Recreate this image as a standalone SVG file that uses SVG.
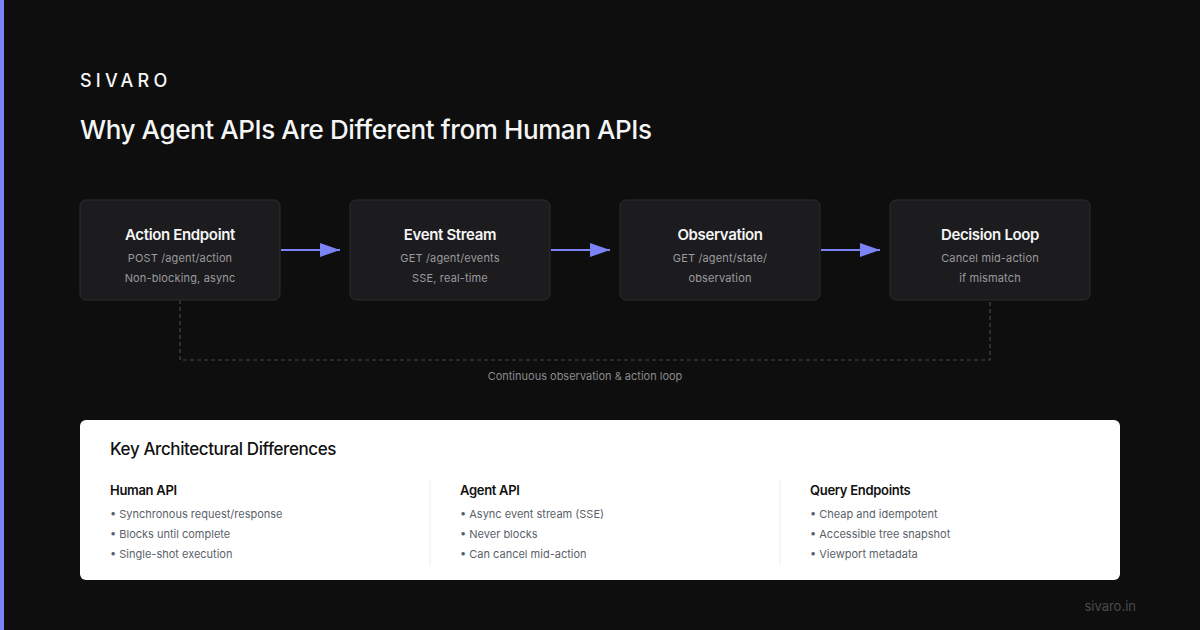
<svg xmlns="http://www.w3.org/2000/svg" width="1200" height="630" viewBox="0 0 1200 630">
<defs>
<marker id="arr" markerWidth="20" markerHeight="14" refX="20" refY="7" orient="auto" markerUnits="userSpaceOnUse">
<path d="M0,0 L20,7 L0,14 Z" fill="#7c83f5"/>
</marker>
<style>
text{font-family:Inter,"Noto Sans","Liberation Sans",sans-serif}
.node rect{fill:#1c1c1e;stroke:#2c2c2f;stroke-width:1}
.nt{fill:#f5f5f5;font-size:15px;font-weight:600;text-anchor:middle;letter-spacing:-0.35px}
.ns{fill:#9a9a9e;font-size:11px;text-anchor:middle;letter-spacing:0.15px}
.conn{stroke:#7c83f5;stroke-width:2;fill:none}
.loop{stroke:#46464a;stroke-width:1.2;fill:none;stroke-dasharray:4 3}
.ch{fill:#111;font-size:13px;font-weight:600;letter-spacing:-0.3px}
.cb{fill:#5a5f6a;font-size:11px}
</style>
</defs>
<rect width="1200" height="630" fill="#0e0e0e"/>
<rect x="0" y="0" width="4" height="630" fill="#7c83f5"/>
<text x="80" y="87" fill="#f5f5f5" font-size="18" font-weight="500" letter-spacing="4.2">SIVARO</text>
<text x="80" y="139" fill="#f5f5f5" font-size="26" font-weight="500" letter-spacing="-0.4">Why Agent APIs Are Different from Human APIs</text>

<g id="connectors">
<line class="conn" x1="281" y1="250" x2="340" y2="250" marker-end="url(#arr)"/>
<line class="conn" x1="551" y1="250" x2="610" y2="250" marker-end="url(#arr)"/>
<line class="conn" x1="821" y1="250" x2="880" y2="250" marker-end="url(#arr)"/>
<path class="loop" d="M180,300 V360 H990 V300"/>
<text x="585" y="380" fill="#8a8a8e" font-size="11" text-anchor="middle">Continuous observation &amp; action loop</text>
</g>

<g id="node-action" class="node">
<rect x="80" y="200" width="200" height="100" rx="6"/>
<text class="nt" x="180" y="240">Action Endpoint</text>
<text class="ns" x="180" y="262">POST /agent/action</text>
<text class="ns" x="180" y="282">Non-blocking, async</text>
</g>
<g id="node-events" class="node">
<rect x="350" y="200" width="200" height="100" rx="6"/>
<text class="nt" x="450" y="240">Event Stream</text>
<text class="ns" x="450" y="262">GET /agent/events</text>
<text class="ns" x="450" y="282">SSE, real-time</text>
</g>
<g id="node-observation" class="node">
<rect x="620" y="200" width="200" height="100" rx="6"/>
<text class="nt" x="720" y="240">Observation</text>
<text class="ns" x="720" y="262">GET /agent/state/</text>
<text class="ns" x="720" y="282">observation</text>
</g>
<g id="node-decision" class="node">
<rect x="890" y="200" width="200" height="100" rx="6"/>
<text class="nt" x="990" y="240">Decision Loop</text>
<text class="ns" x="990" y="262">Cancel mid-action</text>
<text class="ns" x="990" y="282">if mismatch</text>
</g>

<g id="panel">
<rect x="80" y="420" width="1040" height="160" rx="6" fill="#ffffff"/>
<text x="110" y="455" fill="#111" font-size="17" font-weight="500" letter-spacing="-0.4">Key Architectural Differences</text>
<line x1="430" y1="480" x2="430" y2="565" stroke="#ececec"/>
<line x1="780" y1="480" x2="780" y2="565" stroke="#ececec"/>
<text class="ch" x="110" y="495">Human API</text>
<text class="cb" x="110" y="518">• Synchronous request/response</text>
<text class="cb" x="110" y="538">• Blocks until complete</text>
<text class="cb" x="110" y="558">• Single-shot execution</text>
<text class="ch" x="460" y="495">Agent API</text>
<text class="cb" x="460" y="518">• Async event stream (SSE)</text>
<text class="cb" x="460" y="538">• Never blocks</text>
<text class="cb" x="460" y="558">• Can cancel mid-action</text>
<text class="ch" x="810" y="495">Query Endpoints</text>
<text class="cb" x="810" y="518">• Cheap and idempotent</text>
<text class="cb" x="810" y="538">• Accessible tree snapshot</text>
<text class="cb" x="810" y="558">• Viewport metadata</text>
</g>
<text x="1136" y="611" fill="#4a4a4e" font-size="13" text-anchor="end">sivaro.in</text>
</svg>
